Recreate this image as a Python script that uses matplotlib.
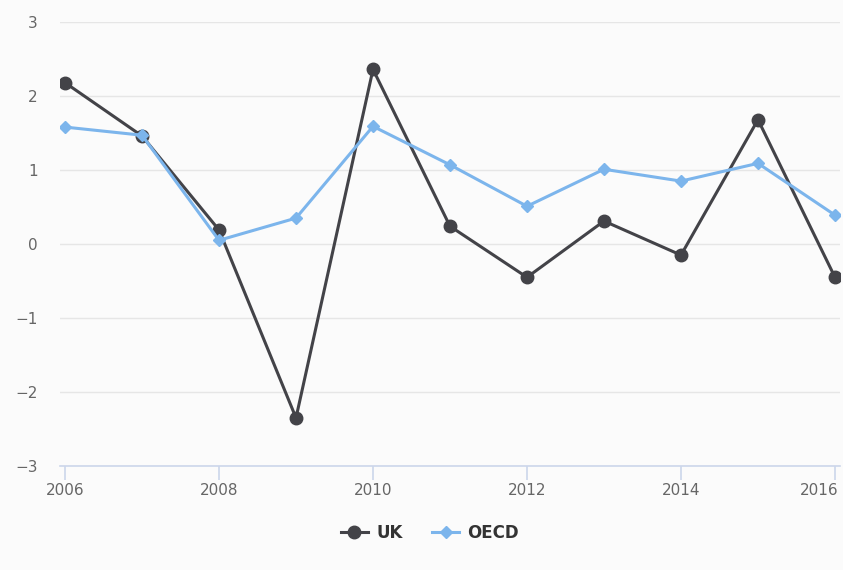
import matplotlib
matplotlib.use("Agg")
import matplotlib.pyplot as plt
import matplotlib.transforms as mtransforms
from matplotlib.lines import Line2D

years = [2006, 2007, 2008, 2009, 2010, 2011, 2012, 2013, 2014, 2015, 2016]
uk = [2.18, 1.46, 0.19, -2.35, 2.36, 0.24, -0.45, 0.31, -0.15, 1.68, -0.45]
oecd = [1.58, 1.47, 0.05, 0.35, 1.59, 1.07, 0.51, 1.01, 0.85, 1.09, 0.39]
xticks = [2006, 2008, 2010, 2012, 2014, 2016]
yticks = [-3, -2, -1, 0, 1, 2, 3]

plt.rcParams['font.family'] = ['DejaVu Sans']
W, H = 843, 570
fig = plt.figure(figsize=(W / 100, H / 100), dpi=100)
fig.patch.set_facecolor('#fbfbfb')
ax = fig.add_axes([60 / W, 1 - 466 / H, 780 / W, 444 / H])
ax.set_facecolor('#fbfbfb')

ax.plot(years, uk, color='#434348', lw=2.2, marker='o', ms=9, zorder=3, label='UK')
ax.plot(years, oecd, color='#7cb5ec', lw=2.2, marker='D', ms=6.5, zorder=4, label='OECD')

ax.set_xlim(2005.935, 2016.065)
ax.set_ylim(-3, 3)
ax.set_xticks(xticks)
ax.set_yticks(yticks)
ax.set_yticklabels(['\u22123', '\u22122', '\u22121', '0', '1', '2', '3'])
ax.grid(axis='y', color='#e6e6e6', lw=1)
ax.set_axisbelow(True)
for s in ['top', 'right', 'left']:
    ax.spines[s].set_visible(False)
ax.spines['bottom'].set_color('#ccd6eb')
ax.spines['bottom'].set_linewidth(1.2)
ax.tick_params(axis='x', colors='#ccd6eb', length=10, width=1.2, labelcolor='#666666', labelsize=11, pad=2)
ax.tick_params(axis='y', length=0, labelcolor='#666666', labelsize=11, pad=16)
for lab in ax.get_yticklabels():
    lab.set_horizontalalignment('right')

last = ax.get_xticklabels()[-1]
last.set_horizontalalignment('right')
last.set_transform(last.get_transform() + mtransforms.ScaledTranslation(4 / 100, 0, fig.dpi_scale_trans))

handles = [Line2D([0], [0], color='#434348', lw=2.2, marker='o', ms=9),
           Line2D([0], [0], color='#7cb5ec', lw=2.2, marker='D', ms=6.5)]
leg = fig.legend(handles, ['UK', 'OECD'], loc='center', bbox_to_anchor=(430 / W, 1 - 533 / H),
                 ncol=2, frameon=False, prop={'weight': 'bold', 'size': 12},
                 handlelength=1.6, columnspacing=1.8, handletextpad=0.5)
for t in leg.get_texts():
    t.set_color('#333333')

fig.savefig('out.png', dpi=100, facecolor=fig.get_facecolor())
